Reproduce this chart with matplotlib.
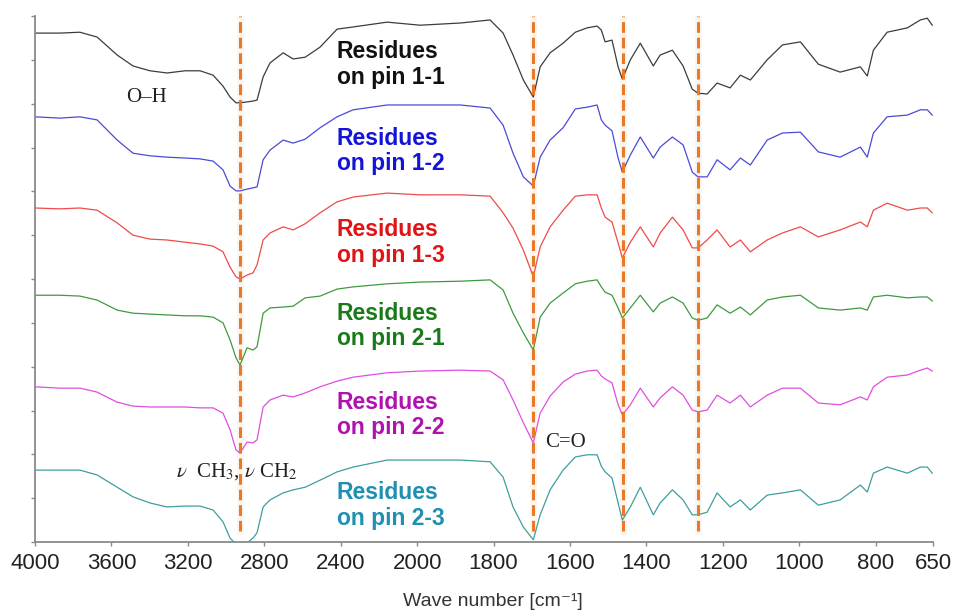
import numpy as np
import matplotlib
matplotlib.use("Agg")
import matplotlib.pyplot as plt

plt.rcParams['mathtext.fontset'] = 'stix'

# wavenumber grid (cm-1)
wavenumber = [4000, 3870, 3765, 3675, 3570, 3487, 3398, 3309, 3215, 3136,
              3068, 3016, 2979, 2948, 2927, 2890, 2859, 2838, 2806, 2770,
              2701, 2649, 2586, 2508, 2419, 2335, 2157, 1992, 1887, 1809,
              1775, 1749, 1722, 1696, 1678, 1652, 1618, 1586, 1555, 1529,
              1518, 1508, 1490, 1474, 1463, 1442, 1416, 1382, 1364, 1332,
              1304, 1280, 1265, 1241, 1215, 1181, 1154, 1128, 1084, 1044,
              997, 950, 893, 840, 822, 806, 770, 717, 683, 665, 652]

# stacked transmittance traces (arbitrary offset units)
pin_1_1 = [116.1, 116.1, 116.3, 115.2, 111.1, 108.6, 107.5, 107.0, 107.5, 107.5,
           106.5, 104.0, 101.5, 100.2, 100.2, 100.4, 100.6, 100.8, 106.1, 109.3,
           111.6, 110.2, 110.6, 112.9, 117.0, 117.5, 118.6, 117.9, 118.4, 119.1,
           116.1, 111.1, 105.4, 101.5, 108.4, 111.6, 113.8, 116.3, 117.3, 117.7,
           116.8, 114.1, 114.5, 108.4, 105.6, 110.0, 113.8, 108.6, 111.1, 112.2,
           108.6, 103.3, 102.4, 102.2, 104.7, 103.6, 106.5, 105.4, 110.0, 113.4,
           114.1, 109.0, 107.2, 108.4, 106.3, 112.2, 116.3, 117.3, 119.1, 119.5, 117.9]
pin_1_2 = [97.0, 96.7, 97.0, 96.3, 91.7, 88.7, 88.1, 87.8, 87.6, 87.4,
           86.9, 84.9, 81.2, 80.1, 80.1, 80.5, 80.8, 81.0, 87.2, 89.4,
           91.7, 91.0, 91.9, 94.5, 97.0, 98.6, 99.7, 99.7, 99.7, 99.0,
           95.1, 88.7, 83.3, 81.2, 87.8, 91.7, 94.5, 98.8, 99.2, 99.7,
           96.3, 95.1, 93.8, 87.6, 84.4, 88.3, 92.4, 87.6, 90.1, 92.4,
           90.6, 84.4, 83.3, 83.3, 87.2, 84.9, 87.6, 86.0, 91.7, 93.3,
           93.5, 89.0, 87.8, 90.1, 87.8, 93.3, 97.0, 97.4, 98.6, 98.6, 97.4]
pin_1_3 = [76.2, 76.0, 76.2, 75.7, 72.8, 70.0, 69.1, 68.9, 68.4, 68.0,
           67.5, 66.2, 62.7, 60.5, 60.0, 60.9, 61.4, 63.2, 68.9, 70.5,
           71.9, 71.2, 72.6, 75.1, 77.6, 78.7, 79.6, 79.2, 79.2, 78.9,
           75.1, 71.6, 66.6, 60.5, 67.3, 71.9, 75.7, 78.9, 79.2, 79.2,
           76.2, 74.1, 73.0, 68.2, 64.8, 68.4, 71.9, 67.3, 70.5, 74.1,
           71.2, 67.1, 67.1, 68.9, 71.2, 67.3, 68.9, 66.2, 68.9, 70.5,
           71.9, 69.6, 71.2, 73.0, 71.9, 75.7, 77.3, 75.7, 76.2, 76.2, 75.1]
pin_2_1 = [56.3, 56.3, 56.1, 55.2, 52.9, 52.2, 52.0, 51.8, 51.6, 51.6,
           51.3, 50.0, 46.1, 42.0, 40.4, 44.3, 43.8, 44.5, 52.2, 53.4,
           53.6, 53.8, 55.7, 56.1, 57.7, 58.2, 58.9, 59.3, 59.5, 59.8,
           57.5, 52.2, 47.7, 43.8, 51.3, 54.5, 56.8, 58.9, 59.5, 59.8,
           58.2, 57.0, 56.3, 53.4, 51.1, 53.4, 56.3, 52.5, 54.5, 55.9,
           54.5, 51.1, 50.6, 51.1, 54.1, 52.2, 53.6, 51.8, 55.2, 55.9,
           56.3, 53.4, 52.9, 53.4, 52.9, 55.9, 56.3, 55.7, 55.9, 55.9, 55.0]
pin_2_2 = [35.4, 35.1, 35.1, 34.2, 31.9, 31.0, 30.8, 30.8, 30.8, 30.6,
           30.6, 29.4, 25.6, 21.0, 20.3, 22.8, 22.6, 23.3, 30.8, 32.4,
           33.5, 33.1, 34.0, 35.4, 36.7, 37.6, 38.6, 39.0, 39.2, 39.0,
           37.0, 32.4, 27.2, 22.6, 29.4, 33.3, 36.5, 38.3, 39.0, 39.2,
           37.9, 37.2, 36.3, 31.3, 29.0, 31.3, 35.1, 30.8, 32.9, 35.4,
           33.5, 30.1, 29.7, 30.1, 33.5, 31.7, 33.5, 30.8, 33.5, 35.1,
           35.1, 31.7, 31.3, 33.1, 32.4, 35.4, 37.6, 38.1, 39.2, 39.7, 39.0]
pin_2_3 = [16.4, 16.4, 16.4, 15.3, 12.5, 10.3, 8.9, 8.0, 8.2, 8.2,
           7.3, 4.6, 0.9, -0.5, -0.9, -0.2, 0.9, 2.1, 8.0, 9.6,
           11.2, 11.9, 12.5, 14.1, 16.0, 17.1, 18.7, 18.7, 18.7, 18.3,
           14.8, 8.0, 3.4, 0.5, 6.2, 11.9, 16.4, 19.4, 19.9, 19.9,
           17.3, 16.0, 14.6, 8.9, 5.0, 8.0, 12.5, 6.2, 8.9, 11.9,
           9.6, 6.2, 6.2, 6.8, 11.2, 8.0, 9.6, 7.3, 10.7, 11.2,
           11.9, 8.4, 9.6, 13.0, 11.4, 15.7, 17.1, 15.7, 17.1, 17.1, 15.7]

series = [pin_1_1, pin_1_2, pin_1_3, pin_2_1, pin_2_2, pin_2_3]
labels = ["Residues\non pin 1-1", "Residues\non pin 1-2", "Residues\non pin 1-3",
          "Residues\non pin 2-1", "Residues\non pin 2-2", "Residues\non pin 2-3"]
label_y = [109.0, 89.2, 68.3, 49.3, 29.0, 8.4]
line_colors = ["#3c3c3c", "#4a4ad8", "#f04a4a", "#3f9a3f", "#e04ee0", "#3f9e9e"]
text_colors = ["#111111", "#1414d8", "#e01414", "#1a7a1a", "#b012b0", "#1f8fb2"]

# marker bands (cm-1)
band_positions = [2925, 1697, 1462, 1265]

xticks = [4000, 3600, 3200, 2800, 2400, 2000, 1800, 1600, 1400, 1200, 1000, 800, 650]


# the axis is compressed 2x above 2000 cm-1
def forward(x):
    x = np.asarray(x, dtype=float)
    return np.where(x <= 2000, x, 2000 + (x - 2000) / 2)


def inverse(u):
    u = np.asarray(u, dtype=float)
    return np.where(u <= 2000, u, 2000 + 2 * (u - 2000))


fig = plt.figure(figsize=(9.59, 6.14), dpi=100)
ax = fig.add_axes([35 / 959, 72 / 614, 898 / 959, 526 / 614])
ax.set_xscale('function', functions=(forward, inverse))

for vals, col in zip(series, line_colors):
    ax.plot(wavenumber, vals, color=col, lw=0.9)

for b in band_positions:
    ax.axvline(b, ymin=0.02, ymax=1.0, color="#fbe3cc", lw=5, alpha=0.3, zorder=1)
    ax.axvline(b, ymin=0.02, ymax=1.0, color="#e8782a", lw=2.2,
               linestyle=(0, (3.5, 1.6)), zorder=3)

for lab, yy, col in zip(labels, label_y, text_colors):
    ax.text(2420, yy, lab, color=col, fontsize=16.5, fontweight='bold',
            family='Liberation Sans', ha='left', va='center', linespacing=1.15)

ax.text(3419, 101.5, "O\u2013H", family='Liberation Serif', fontsize=15,
        ha='center', va='center', color="#222222")
ax.text(2942, 16.0, r"$\nu$  CH$_3$, $\nu$ CH$_2$", family='Liberation Serif',
        fontsize=15, ha='center', va='center', color="#222222")
ax.text(1613, 22.8, "C=O", family='Liberation Serif', fontsize=15,
        ha='center', va='center', color="#222222")

ax.set_xlim(4000, 650)
ax.set_ylim(0, 120)
ax.set_xticks(xticks)
ax.set_xticklabels([str(t) for t in xticks], family='Liberation Sans',
                   fontsize=16, color="#222222")
ax.xaxis.set_minor_locator(plt.NullLocator())
ax.set_yticks(np.arange(0, 121, 10))
ax.set_yticklabels([])

for side in ['top', 'right']:
    ax.spines[side].set_visible(False)
for side in ['left', 'bottom']:
    ax.spines[side].set_color("#8a8a8a")
    ax.spines[side].set_linewidth(1.3)
ax.tick_params(axis='both', direction='out', length=3, width=1, color="#8a8a8a")
ax.tick_params(axis='x', pad=5)

ax.set_xlabel("Wave number [cm\u207b\u00b9]", family=['Liberation Sans', 'DejaVu Sans'],
              fontsize=14, color="#333333")
ax.xaxis.set_label_coords(0.51, -0.097)

fig.savefig("out.png", dpi=100)
